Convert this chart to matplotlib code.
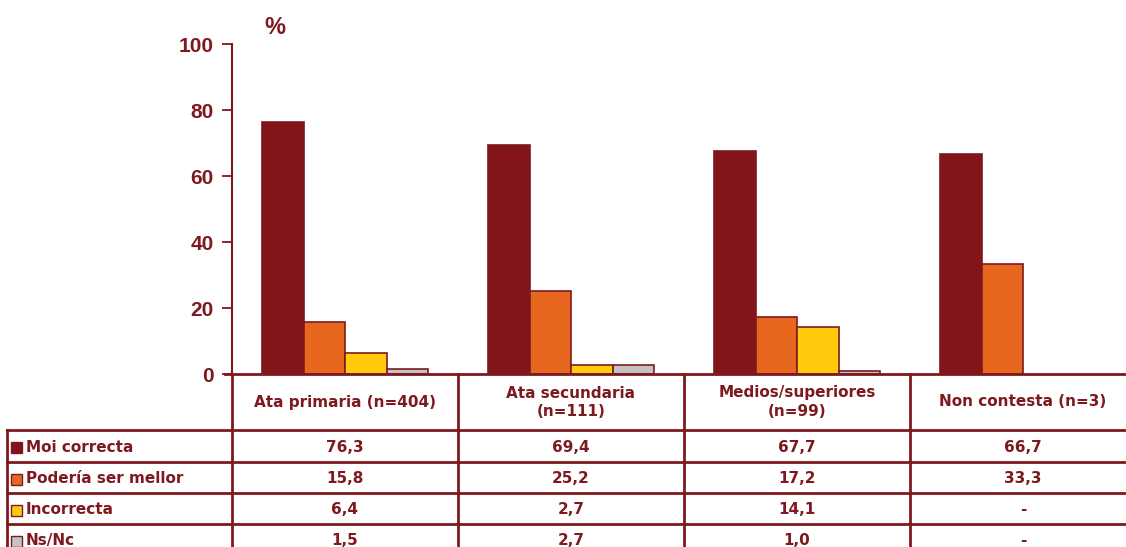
import matplotlib
matplotlib.use("Agg")
import matplotlib.pyplot as plt
from matplotlib.patches import Rectangle
import numpy as np

# categories (columns) and answer series (rows)
categories = ["Ata primaria (n=404)", "Ata secundaria\n(n=111)",
              "Medios/superiores\n(n=99)", "Non contesta (n=3)"]
series = ["Moi correcta", "Podería ser mellor", "Incorrecta", "Ns/Nc"]
moi_correcta = [76.3, 69.4, 67.7, 66.7]
poderia_ser_mellor = [15.8, 25.2, 17.2, 33.3]
incorrecta = [6.4, 2.7, 14.1, None]
ns_nc = [1.5, 2.7, 1.0, None]
yticks = [0, 20, 40, 60, 80, 100]

values = [moi_correcta, poderia_ser_mellor, incorrecta, ns_nc]
colors = ["#82141A", "#E8671F", "#FFCB0C", "#C3C3C3"]
DARK = "#7E1A1F"

W, H = 1126, 547
fig = plt.figure(figsize=(W / 100, H / 100), dpi=100)


def fx(px):
    return px / W


def fy(py):
    return 1 - py / H


# plot area: 0 at y=374, 100 at y=44, categories 226 px wide starting at x=232
cat_w = 226
ax = fig.add_axes([fx(232), fy(374), fx(cat_w * 4), (374 - 44) / H])
ax.set_xlim(0, 4)
ax.set_ylim(0, 100)

bar_w = 41.5 / cat_w
x = np.arange(len(categories)) + 0.5
for j, (vals, col) in enumerate(zip(values, colors)):
    h = [v if v is not None else 0 for v in vals]
    keep = [v is not None for v in vals]
    xs = x + (j - 1.5) * bar_w
    ax.bar(xs[keep], np.array(h)[keep], width=bar_w, color=col,
           edgecolor=DARK, linewidth=1.2, zorder=3)

ax.set_yticks(yticks)
ax.set_yticklabels([str(t) for t in yticks], fontsize=15, fontweight="bold",
                   color=DARK, family="Liberation Sans")
ax.tick_params(axis="y", length=7, width=1.3, color=DARK, pad=6)
ax.set_xticks([])
for s in ["top", "right", "bottom"]:
    ax.spines[s].set_visible(False)
ax.spines["left"].set_color(DARK)
ax.spines["left"].set_linewidth(1.5)

fig.text(fx(275), fy(27), "%", fontsize=17, fontweight="bold", color=DARK,
         family="Liberation Sans", ha="center", va="center")

# data table under the plot
font = dict(family="DejaVu Sans", fontweight="bold", color=DARK, fontsize=11)
lw = 2.0
col_edges = [232 + i * cat_w for i in range(len(categories) + 1)]
row_edges = [430, 462, 493, 524, 555]

fig.add_artist(plt.Line2D([fx(225), 1], [fy(374), fy(374)], color=DARK,
                          lw=lw, transform=fig.transFigure))
for y in row_edges[:-1]:
    fig.add_artist(plt.Line2D([fx(7), 1], [fy(y), fy(y)], color=DARK,
                              lw=lw, transform=fig.transFigure))
for cx in col_edges:
    fig.add_artist(plt.Line2D([fx(cx), fx(cx)], [fy(374), 0], color=DARK,
                              lw=lw, transform=fig.transFigure))
fig.add_artist(plt.Line2D([fx(7), fx(7)], [fy(430), 0], color=DARK,
                          lw=lw, transform=fig.transFigure))

for i, cat in enumerate(categories):
    cx = (col_edges[i] + col_edges[i + 1]) / 2
    fig.text(fx(cx), fy(402), cat, ha="center", va="center",
             linespacing=1.25, **font)

for r, (name, vals, col) in enumerate(zip(series, values, colors)):
    yc = (row_edges[r] + row_edges[r + 1]) / 2 + 1
    fig.add_artist(Rectangle((fx(11), fy(yc + 6)), fx(11), 11 / H,
                             facecolor=col, edgecolor=DARK, lw=1,
                             transform=fig.transFigure))
    fig.text(fx(26), fy(yc), name, ha="left", va="center", **font)
    for i, v in enumerate(vals):
        cx = (col_edges[i] + col_edges[i + 1]) / 2
        label = f"{v:.1f}".replace(".", ",") if v is not None else "-"
        fig.text(fx(cx), fy(yc), label, ha="center", va="center", **font)

fig.savefig("out.png", dpi=100)
